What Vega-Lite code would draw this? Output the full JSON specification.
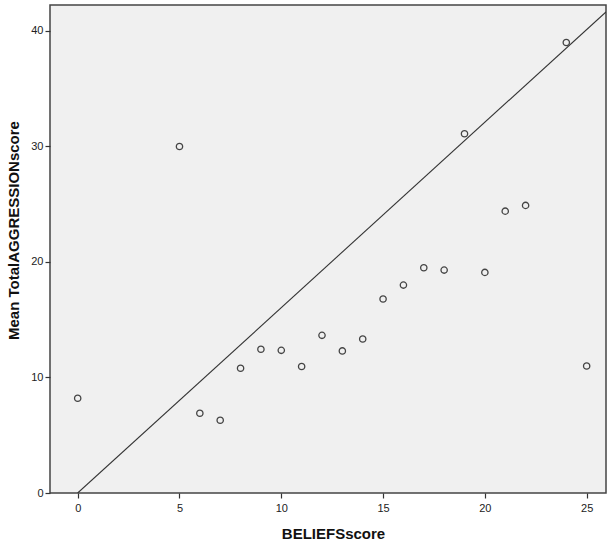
{
  "$schema": "https://vega.github.io/schema/vega-lite/v6.json",
  "width": 556,
  "height": 488,
  "autosize": "none",
  "padding": {"left": 50, "top": 5, "right": 1, "bottom": 55},
  "background": "white",
  "config": {
    "view": {"fill": "#F0F0F0", "stroke": "#444444", "strokeWidth": 1.5},
    "axis": {
      "labelFont": "Liberation Sans",
      "labelFontSize": 11,
      "labelColor": "#222222",
      "titleFont": "Liberation Sans",
      "titleFontSize": 15,
      "titleFontWeight": "bold",
      "titleColor": "#111111",
      "grid": false,
      "domain": false,
      "tickColor": "#333333",
      "tickSize": 5,
      "tickWidth": 1.2
    }
  },
  "datasets": {
    "pts": [
      {"BELIEFSscore": 0, "MeanAgg": 8.2},
      {"BELIEFSscore": 5, "MeanAgg": 30.0},
      {"BELIEFSscore": 6, "MeanAgg": 6.9},
      {"BELIEFSscore": 7, "MeanAgg": 6.3},
      {"BELIEFSscore": 8, "MeanAgg": 10.8},
      {"BELIEFSscore": 9, "MeanAgg": 12.45},
      {"BELIEFSscore": 10, "MeanAgg": 12.35},
      {"BELIEFSscore": 11, "MeanAgg": 10.95},
      {"BELIEFSscore": 12, "MeanAgg": 13.65},
      {"BELIEFSscore": 13, "MeanAgg": 12.3},
      {"BELIEFSscore": 14, "MeanAgg": 13.33},
      {"BELIEFSscore": 15, "MeanAgg": 16.8},
      {"BELIEFSscore": 16, "MeanAgg": 18.0},
      {"BELIEFSscore": 17, "MeanAgg": 19.5},
      {"BELIEFSscore": 18, "MeanAgg": 19.3},
      {"BELIEFSscore": 19, "MeanAgg": 31.1},
      {"BELIEFSscore": 20, "MeanAgg": 19.1},
      {"BELIEFSscore": 21, "MeanAgg": 24.4},
      {"BELIEFSscore": 22, "MeanAgg": 24.9},
      {"BELIEFSscore": 24, "MeanAgg": 39.0},
      {"BELIEFSscore": 25, "MeanAgg": 11.0}
    ],
    "ref": [
      {"BELIEFSscore": 0, "MeanAgg": 0},
      {"BELIEFSscore": 25.95, "MeanAgg": 41.65}
    ]
  },
  "layer": [
    {
      "data": {"name": "ref"},
      "mark": {"type": "line", "color": "#333333", "strokeWidth": 1.1, "clip": true},
      "encoding": {
        "x": {"field": "BELIEFSscore", "type": "quantitative"},
        "y": {"field": "MeanAgg", "type": "quantitative"}
      }
    },
    {
      "data": {"name": "pts"},
      "mark": {"type": "point", "shape": "circle", "filled": false, "color": "#444444", "strokeWidth": 1.3, "size": 40, "opacity": 1},
      "encoding": {
        "x": {
          "field": "BELIEFSscore",
          "type": "quantitative",
          "scale": {"domain": [-1.36, 25.95], "nice": false, "zero": false},
          "axis": {"values": [0, 5, 10, 15, 20, 25], "title": "BELIEFSscore", "titlePadding": 13, "labelPadding": 4, "titleX": 283}
        },
        "y": {
          "field": "MeanAgg",
          "type": "quantitative",
          "scale": {"domain": [0, 42.25], "nice": false, "zero": false},
          "axis": {"values": [0, 10, 20, 30, 40], "title": "Mean TotalAGGRESSIONscore", "titlePadding": 9, "labelPadding": 2, "titleY": 225}
        }
      }
    }
  ]
}
